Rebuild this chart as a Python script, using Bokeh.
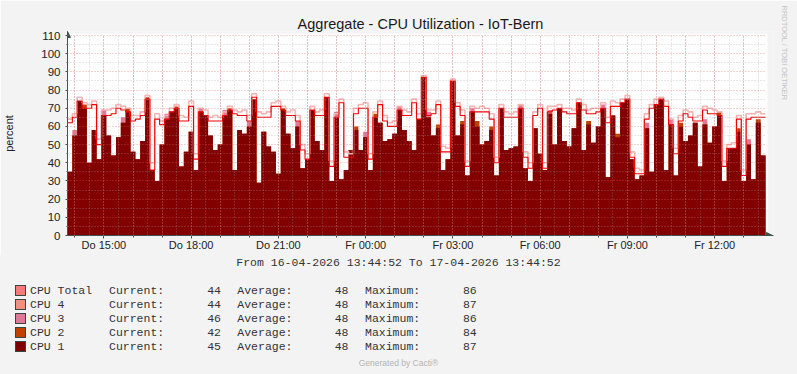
import numpy as np
import pandas as pd
from bokeh.plotting import figure
from bokeh.layouts import column
from bokeh.models import (FixedTicker, Arrow, NormalHead, BoxAnnotation, Title, Div)
from bokeh.embed import file_html
from bokeh.resources import INLINE

# ---------------- data ----------------
start = pd.Timestamp("2026-04-16 13:44:52")
end = pd.Timestamp("2026-04-17 13:44:52")
title_text = "Aggregate - CPU Utilization - IoT-Bern"
y_label = "percent"
range_text = "From 16-04-2026 13:44:52 To 17-04-2026 13:44:52"
footer_text = "Generated by Cacti\u00ae"
side_text = "RRDTOOL / TOBI OETIKER"

tick_times = ["2026-04-16 15:00", "2026-04-16 18:00", "2026-04-16 21:00", "2026-04-17 00:00",
              "2026-04-17 03:00", "2026-04-17 06:00", "2026-04-17 09:00", "2026-04-17 12:00"]
tick_labels = ["Do 15:00", "Do 18:00", "Do 21:00", "Fr 00:00",
               "Fr 03:00", "Fr 06:00", "Fr 09:00", "Fr 12:00"]
y_ticks = [0, 10, 20, 30, 40, 50, 60, 70, 80, 90, 100, 110]
y_minor = [5, 15, 25, 35, 45, 55, 65, 75, 85, 95, 105]

series_names = ["CPU Total", "CPU 4", "CPU 3", "CPU 2", "CPU 1"]
series_colors = ["#F77A7A", "#F2907F", "#E07898", "#C04000", "#800000"]
current = [44, 44, 46, 42, 45]
average = [48, 48, 48, 48, 48]
maximum = [86, 87, 86, 84, 87]

# 10-minute samples over 24 h
cpu1 = [35, 55, 74, 70, 40, 58, 42, 66, 55, 44,
        54, 62, 68, 46, 42, 52, 75, 36, 30, 50,
        64, 68, 70, 38, 46, 57, 36, 68, 66, 55,
        47, 50, 66, 69, 36, 58, 56, 60, 75, 29,
        57, 49, 46, 34, 69, 56, 48, 60, 37, 42,
        69, 52, 47, 76, 30, 65, 31, 36, 47, 58,
        47, 54, 36, 65, 62, 52, 53, 56, 69, 58,
        52, 47, 64, 87, 65, 55, 59, 36, 42, 85,
        55, 61, 33, 68, 60, 50, 52, 58, 33, 70,
        47, 48, 49, 70, 37, 30, 59, 45, 36, 67,
        50, 70, 52, 49, 59, 73, 47, 61, 51, 60,
        70, 32, 66, 54, 73, 75, 42, 31, 33, 59,
        35, 72, 75, 36, 61, 33, 60, 52, 55, 62,
        38, 61, 51, 60, 66, 30, 48, 48, 57, 30,
        50, 31, 62, 44]

cpu2 = [35, 55, 74, 72, 40, 58, 42, 66, 55, 44,
        54, 62, 70, 46, 42, 52, 76, 36, 30, 50,
        64, 68, 71, 38, 46, 57, 36, 68, 66, 55,
        47, 50, 66, 70, 36, 58, 56, 60, 75, 29,
        57, 49, 46, 34, 70, 56, 48, 60, 37, 42,
        69, 52, 47, 76, 30, 65, 31, 36, 47, 60,
        47, 54, 36, 67, 62, 52, 53, 56, 69, 58,
        52, 47, 64, 84, 65, 55, 61, 36, 42, 84,
        55, 63, 33, 68, 63, 50, 52, 60, 33, 70,
        47, 48, 49, 70, 37, 30, 59, 45, 36, 67,
        50, 70, 52, 49, 59, 73, 47, 63, 51, 60,
        70, 32, 66, 56, 73, 75, 42, 31, 33, 59,
        35, 72, 75, 36, 61, 33, 62, 52, 55, 62,
        38, 61, 51, 60, 68, 30, 48, 48, 59, 30,
        50, 31, 64, 44]

cpu3 = [35, 58, 74, 70, 40, 58, 42, 69, 55, 44,
        54, 65, 68, 46, 42, 52, 75, 36, 30, 50,
        67, 68, 70, 38, 46, 57, 36, 70, 66, 55,
        47, 50, 69, 69, 36, 58, 56, 63, 75, 29,
        57, 49, 46, 34, 69, 56, 48, 63, 37, 42,
        69, 52, 47, 76, 30, 68, 31, 36, 47, 58,
        47, 57, 36, 65, 62, 52, 53, 56, 71, 58,
        52, 47, 64, 86, 68, 55, 59, 36, 42, 85,
        55, 61, 33, 70, 60, 50, 52, 58, 33, 70,
        47, 48, 49, 72, 37, 30, 59, 45, 36, 69,
        50, 70, 52, 49, 59, 73, 47, 61, 51, 60,
        72, 32, 66, 54, 73, 75, 42, 31, 33, 62,
        35, 72, 75, 36, 64, 33, 60, 52, 55, 62,
        38, 64, 51, 60, 66, 30, 48, 48, 57, 30,
        53, 31, 62, 44]

peak = [62, 65, 74, 70, 70, 72, 50, 66, 66, 67,
        70, 69, 68, 63, 64, 66, 75, 36, 64, 61,
        64, 68, 70, 63, 63, 71, 42, 68, 66, 63,
        63, 63, 66, 69, 67, 66, 66, 63, 76, 65,
        65, 65, 71, 71, 69, 66, 66, 63, 47, 42,
        69, 66, 66, 76, 38, 65, 73, 43, 43, 67,
        70, 70, 42, 65, 72, 63, 60, 60, 69, 66,
        66, 73, 64, 87, 66, 67, 72, 46, 46, 85,
        71, 66, 38, 68, 68, 68, 68, 64, 40, 70,
        65, 65, 65, 70, 43, 37, 66, 70, 37, 68,
        69, 70, 68, 67, 67, 73, 69, 67, 67, 68,
        70, 62, 71, 71, 73, 75, 43, 34, 34, 64,
        70, 72, 75, 71, 61, 45, 63, 67, 65, 63,
        63, 69, 67, 67, 66, 38, 48, 48, 64, 33,
        64, 65, 65, 65]

peak_pale = [64, 67, 76, 73, 72, 74, 53, 69, 69, 70,
             72, 71, 70, 66, 66, 68, 77, 40, 67, 63,
             66, 70, 72, 66, 65, 74, 45, 70, 69, 65,
             66, 65, 68, 71, 69, 68, 69, 66, 78, 68,
             67, 68, 73, 74, 71, 68, 69, 66, 50, 45,
             71, 68, 69, 78, 41, 67, 75, 46, 45, 70,
             72, 73, 45, 68, 74, 66, 62, 63, 71, 69,
             68, 75, 67, 88, 69, 69, 74, 49, 48, 86,
             73, 69, 41, 71, 70, 71, 70, 67, 43, 72,
             68, 67, 68, 72, 46, 40, 68, 72, 40, 71,
             71, 72, 70, 70, 69, 75, 72, 69, 70, 70,
             73, 65, 74, 73, 75, 77, 46, 37, 36, 67,
             72, 75, 76, 74, 64, 48, 66, 69, 68, 65,
             66, 71, 70, 69, 68, 41, 50, 51, 66, 36,
             67, 67, 68, 67]

# ---------------- geometry ----------------
span = (end - start).total_seconds()
n = len(cpu1)
step_x = np.arange(n + 1) * span / n

def ext(v):
    return list(v) + [v[-1]]

def secs(ts):
    return int((pd.Timestamp(ts) - start).total_seconds())

major_x = [secs(t) for t in tick_times]
hour_x = [secs(t) for t in pd.date_range("2026-04-16 14:00", "2026-04-17 13:00", freq="h")]
half_x = [secs(t) for t in pd.date_range("2026-04-16 14:00", "2026-04-17 13:30", freq="30min")]

W = 797
H1, H2 = 255, 119
DW, DH = 700, 200            # data area in pixels
FL, FT = 67, 31              # frame left / top inside top figure
EXT_R, EXT_T = 8, 4          # room for axis arrows
FW, FH = DW + EXT_R, DH + EXT_T
px_x = span / DW
px_y = 110 / DH
BG = "#F3F3F3"
axis_col = "#3F524F"

p = figure(width=W, height=H1, output_backend="svg", toolbar_location=None,
           x_range=(0, span + EXT_R * px_x), y_range=(0, 110 + EXT_T * px_y),
           min_border_left=FL, min_border_right=W - FL - FW,
           min_border_top=FT, min_border_bottom=H1 - FT - FH,
           background_fill_color=BG, border_fill_color=BG)
p.outline_line_color = None

# white canvas behind the data
p.add_layout(BoxAnnotation(left=0, right=span + 2 * px_x, bottom=0, top=110 + 2 * px_y,
                           fill_color="white", fill_alpha=1.0, line_alpha=0, level="underlay"))

# areas
p.varea_step(x=step_x, y1=0, y2=ext(cpu3), step_mode="after", fill_color="#E07898")
p.varea_step(x=step_x, y1=0, y2=ext(cpu2), step_mode="after", fill_color="#C04000")
p.varea_step(x=step_x, y1=0, y2=ext(cpu1), step_mode="after", fill_color="#820000")
# peak lines
p.step(x=step_x, y=ext(peak_pale), mode="after", line_color="#F4B4B4", line_width=1.6)
p.step(x=step_x, y=ext(peak), mode="after", line_color="#F00000", line_width=1.1)

# axes
p.xaxis.ticker = FixedTicker(ticks=major_x, minor_ticks=hour_x)
p.xaxis.major_label_overrides = {k: v for k, v in zip(major_x, tick_labels)}
p.yaxis.ticker = FixedTicker(ticks=y_ticks, minor_ticks=y_minor)
for ax in (p.xaxis[0], p.yaxis[0]):
    ax.axis_line_color = axis_col
    ax.major_tick_line_color = axis_col
    ax.minor_tick_line_color = axis_col
    ax.major_label_text_font = "Liberation Sans"
    ax.major_label_text_color = "#222222"
p.xaxis.major_label_text_font_size = "11px"
p.yaxis.major_label_text_font_size = "11.5px"
p.xaxis.major_tick_in = 0
p.xaxis.major_tick_out = 3
p.xaxis.minor_tick_in = 0
p.xaxis.minor_tick_out = 2
p.xaxis.major_label_standoff = 0
p.yaxis.major_tick_in = 0
p.yaxis.major_tick_out = 2
p.yaxis.minor_tick_in = 0
p.yaxis.minor_tick_out = 1
p.yaxis.major_label_standoff = 5
p.yaxis.axis_label = y_label
p.yaxis.axis_label_text_font = "Liberation Sans"
p.yaxis.axis_label_text_font_size = "11px"
p.yaxis.axis_label_text_font_style = "normal"
p.yaxis.axis_label_text_color = "#222222"
p.yaxis.axis_label_standoff = 23

# grid (drawn over the data like rrdtool)
p.xgrid.ticker = FixedTicker(ticks=hour_x, minor_ticks=half_x)
p.ygrid.ticker = FixedTicker(ticks=y_ticks, minor_ticks=y_minor)
for g in (p.xgrid[0], p.ygrid[0]):
    g.level = "overlay"
    g.grid_line_color = "#E06060"
    g.grid_line_alpha = 0.55
    g.grid_line_dash = "1 2"
    g.minor_grid_line_color = "#A0A0A0"
    g.minor_grid_line_alpha = 0.5
    g.minor_grid_line_dash = "1 2"
if "cross_bounds" in p.xgrid[0].properties():
    p.xgrid[0].cross_bounds = (0, 110 + 1 * px_y)
    p.ygrid[0].cross_bounds = (0, span + 1 * px_x)

# axis arrows
p.add_layout(Arrow(end=NormalHead(size=6, fill_color=axis_col, line_color=axis_col),
                   x_start=span, y_start=0, x_end=span + (EXT_R - 1) * px_x, y_end=0,
                   line_color=axis_col, line_width=1))
p.add_layout(Arrow(end=NormalHead(size=6, fill_color=axis_col, line_color=axis_col),
                   x_start=0, y_start=110, x_end=0, y_end=110 + EXT_T * px_y,
                   line_color=axis_col, line_width=1))

# title and side credit
p.title.text = title_text
p.title.align = "center"
p.title.text_font = "Liberation Sans"
p.title.text_font_size = "14.5px"
p.title.text_font_style = "normal"
p.title.text_color = "#1a1a1a"
p.title.standoff = 0
p.add_layout(Title(text=side_text, align="left", text_font="Liberation Sans",
                   text_font_size="7.5px", text_font_style="normal",
                   text_color="#C4C4C4", standoff=13, offset=-26), "right")

# ---------------- lower text block (legend) ----------------
TOP = H1
MONO = "'Liberation Mono', monospace"

def box(left, cy, text, width=None, align="left", size="11.5px", font=MONO,
        color="#333333", lh=14):
    w = f"width:{width}px;" if width is not None else ""
    return (f'<div style="position:absolute;left:{left}px;top:{cy - TOP - lh / 2:.1f}px;'
            f'{w}height:{lh}px;line-height:{lh}px;text-align:{align};white-space:pre;'
            f'font-family:{font};font-size:{size};color:{color};">{text}</div>')

parts = [box(0, 263, range_text, width=W, align="center")]
for k, (name, col) in enumerate(zip(series_names, series_colors)):
    cy = 290.7 + 14 * k
    parts.append(f'<div style="position:absolute;left:15px;top:{cy - TOP - 5.5:.1f}px;'
                 f'width:11px;height:11px;box-sizing:border-box;border:1px solid #34463F;'
                 f'background:{col};"></div>')
    parts.append(box(30, cy, name))
    parts.append(box(109, cy, "Current:"))
    parts.append(box(221 - 40, cy, str(current[k]), width=40, align="right"))
    parts.append(box(237.3, cy, "Average:"))
    parts.append(box(348.5 - 40, cy, str(average[k]), width=40, align="right"))
    parts.append(box(365, cy, "Maximum:"))
    parts.append(box(476.7 - 40, cy, str(maximum[k]), width=40, align="right"))
parts.append(box(0, 363.3, footer_text, width=W, align="center", size="8.5px",
                 font="'Liberation Sans', sans-serif", color="#B4B4B4", lh=10))

html = (f'<div style="position:relative;width:{W}px;height:{H2}px;background:{BG};'
        f'margin:0;padding:0;overflow:hidden;">' + "".join(parts) + "</div>")
legend_div = Div(text=html, width=W, height=H2, margin=0,
                 styles={"background-color": BG})

layout = column(p, legend_div, spacing=0, margin=0)
open("out.html", "w").write(file_html(layout, INLINE))
